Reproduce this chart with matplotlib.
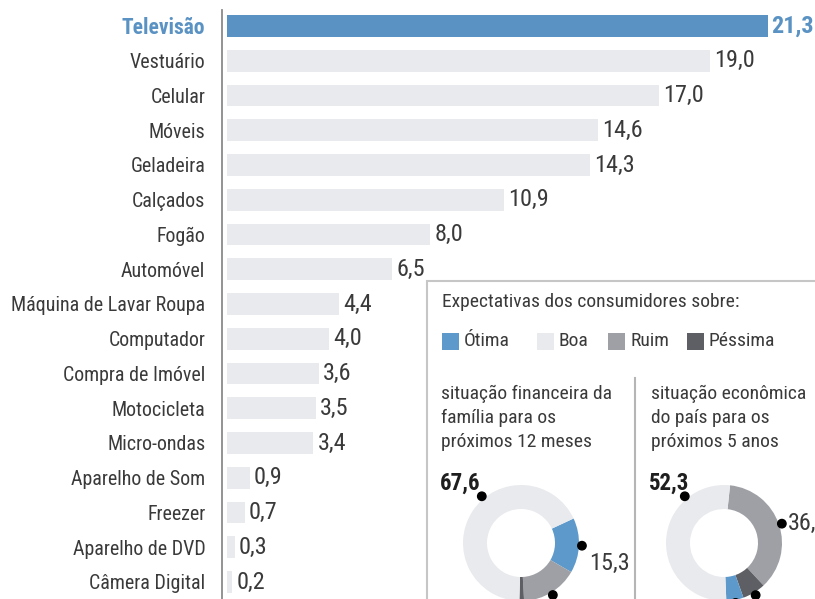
import matplotlib
matplotlib.use("Agg")
import numpy as np
import matplotlib.pyplot as plt
from matplotlib import font_manager
from matplotlib.patches import Rectangle, Circle

# bar chart data
categories = ["Televisão", "Vestuário", "Celular", "Móveis", "Geladeira", "Calçados",
              "Fogão", "Automóvel", "Máquina de Lavar Roupa", "Computador",
              "Compra de Imóvel", "Motocicleta", "Micro-ondas", "Aparelho de Som",
              "Freezer", "Aparelho de DVD", "Câmera Digital"]
values = [21.3, 19.0, 17.0, 14.6, 14.3, 10.9, 8.0, 6.5, 4.4, 4.0, 3.6, 3.5, 3.4,
          0.9, 0.7, 0.3, 0.2]

# donut data (drawing order, clockwise)
legend_labels = ["Ótima", "Boa", "Ruim", "Péssima"]
fam_order = ["Ótima", "Ruim", "Péssima", "Boa"]
fam_vals = [15.3, 15.8, 1.3, 67.6]
pais_order = ["Ruim", "Péssima", "Ótima", "Boa"]
pais_vals = [36.4, 6.5, 4.8, 52.3]

fam_title = "situação financeira da\nfamília para os\npróximos 12 meses"
pais_title = "situação econômica\ndo país para os\npróximos 5 anos"

colors = {"Ótima": "#5d9acb", "Boa": "#e9eaee", "Ruim": "#9fa0a5", "Péssima": "#5e5f64"}
BLUE = "#5a93c3"
GRAY_BAR = "#e9eaee"
TXT = "#3a3a3a"

# pick a condensed font if one is installed
names = {f.name for f in font_manager.fontManager.ttflist}
FONT, FS, FN = "DejaVu Sans", 11, 12
for n in ["Roboto Condensed", "Liberation Sans Narrow", "Open Sans Condensed",
          "DejaVu Sans Condensed"]:
    if n in names:
        FONT, FS, FN = n, 14, 17.5
        break
plt.rcParams["font.family"] = [FONT, "DejaVu Sans"]

W, H = 815, 599
fig = plt.figure(figsize=(W / 100, H / 100), dpi=100)

# ---- bar chart ----
ax = fig.add_axes([222 / W, 0, 1 - 222 / W, 1 - 10 / H])
y = np.arange(len(categories))
bar_cols = [BLUE] + [GRAY_BAR] * (len(values) - 1)
ax.barh(y, values, height=0.63, color=bar_cols, left=0)
ax.set_xlim(-0.2, 23.15)
ax.set_ylim(16.49, -0.46)
for s in ["top", "right", "bottom"]:
    ax.spines[s].set_visible(False)
ax.spines["left"].set_color("#8a8a8a")
ax.spines["left"].set_linewidth(1.3)
ax.spines["left"].set_position(("data", -0.2))
ax.set_xticks([])
ax.set_yticks(y)
ax.set_yticklabels(categories, fontsize=FS + 0.4, color=TXT)
ax.tick_params(axis="y", length=0, pad=12)
tl = ax.get_yticklabels()[0]
tl.set_color(BLUE)
tl.set_fontweight("bold")
tl.set_fontsize(FS + 1.5)

for i, v in enumerate(values):
    lab = f"{v:.1f}".replace(".", ",")
    if i == 0:
        ax.annotate(lab, (v, i), xytext=(2, 0), textcoords="offset points",
                    va="center", ha="left", fontsize=FN, color=BLUE, fontweight="bold")
    else:
        ax.annotate(lab, (v, i), xytext=(3, 0), textcoords="offset points",
                    va="center", ha="left", fontsize=FN, color=TXT)

# ---- inset with donuts (pixel coordinates, y measured from the top) ----
ov = fig.add_axes([0, 0, 1, 1], zorder=3)
ov.patch.set_visible(False)


def Y(v):
    return H - v


ov.add_patch(Rectangle((427, -10), 420, Y(281) + 10, facecolor="white",
                       edgecolor="#c6c6c6", linewidth=1.5))
ov.text(442, Y(302), "Expectativas dos consumidores sobre:", fontsize=FS, color=TXT,
        va="center", ha="left")

leg_x = [442, 537, 608, 687]
for lx, lab in zip(leg_x, legend_labels):
    ov.add_patch(Rectangle((lx, Y(350)), 17, 17, facecolor=colors[lab], edgecolor="none"))
    ov.text(lx + 22, Y(341), lab, fontsize=FS, color=TXT, va="center", ha="left")

ov.text(441, Y(385), fam_title, fontsize=FS, color=TXT, va="top", ha="left",
        linespacing=1.42)
ov.text(651, Y(385), pais_title, fontsize=FS, color=TXT, va="top", ha="left",
        linespacing=1.42)
ov.plot([635, 635], [Y(378), Y(605)], color="#b5b5b5", lw=1.5)

R, WID = 58, 24
donuts = [
    (fam_order, fam_vals, 25, (521, Y(543))),
    (pais_order, pais_vals, 84, (724, Y(543))),
]
for order, vals, start, c in donuts:
    ov.pie(vals, colors=[colors[k] for k in order], startangle=start,
           counterclock=False, radius=R, center=c, frame=True,
           wedgeprops=dict(width=WID, linewidth=0))

# dots on the ring, label positions
dot_pos = {}
for di, (order, vals, start, c) in enumerate(donuts):
    cum = 0
    for k, v in zip(order, vals):
        if k == "Boa":
            ang = 130
        else:
            ang = start - (cum + v / 2) * 3.6
        cum += v
        px = c[0] + (R + 3) * np.cos(np.radians(ang))
        py = c[1] + (R + 3) * np.sin(np.radians(ang))
        ov.add_patch(Circle((px, py), 4.2, color="black", zorder=5))
        dot_pos[(di, k)] = (px, py, v)


def fmt(v):
    return f"{v:.1f}".replace(".", ",")


px, py, v = dot_pos[(0, "Boa")]
ov.text(px - 1, py + 7, fmt(v), fontsize=FN - 1, fontweight="bold", color="#1e1e1e",
        ha="right", va="baseline")
px, py, v = dot_pos[(1, "Boa")]
ov.text(px + 5, py + 7, fmt(v), fontsize=FN - 1, fontweight="bold", color="#1e1e1e",
        ha="right", va="baseline")
px, py, v = dot_pos[(0, "Ótima")]
ov.text(px + 7, py - 18, fmt(v), fontsize=FN, color=TXT, ha="left", va="center")
px, py, v = dot_pos[(1, "Ruim")]
ov.text(px + 6, py, fmt(v), fontsize=FN, color=TXT, ha="left", va="center")

ov.set_xlim(0, W)
ov.set_ylim(0, H)
ov.set_aspect("auto")
ov.axis("off")

fig.savefig("out.png", dpi=100, facecolor="white")
